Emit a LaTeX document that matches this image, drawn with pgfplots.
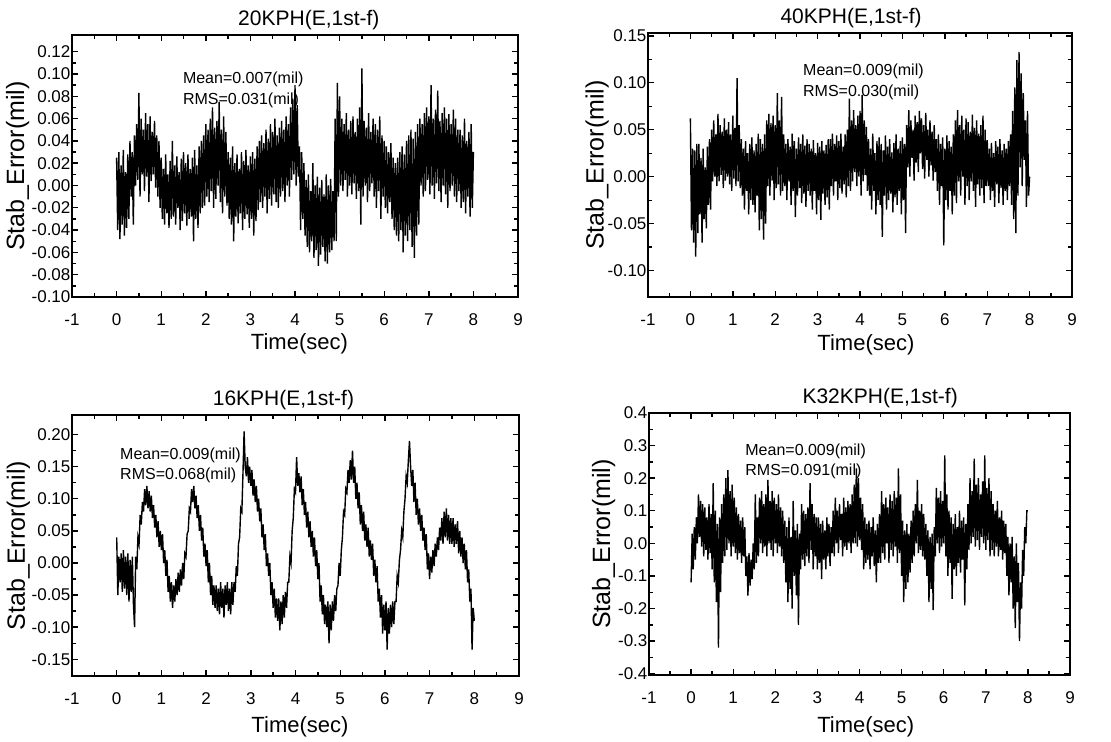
\documentclass[border=0pt]{standalone}
\usepackage{fontspec}
\setmainfont{Liberation Sans}
\usepackage{pgfplots}
\usepackage{pgfplotstable}
\pgfplotsset{compat=1.18}

\pgfplotstableread[row sep=\\]{y\\
0.025\\-0.040\\0.030\\-0.048\\0.018\\-0.035\\0.032\\-0.045\\0.012\\-0.038\\0.028\\-0.030\\
0.040\\-0.010\\0.030\\-0.035\\0.045\\0.000\\
0.055\\0.005\\0.083\\-0.010\\0.060\\0.010\\0.050\\-0.005\\0.065\\0.008\\0.055\\-0.015\\0.062\\0.004\\0.048\\0.010\\0.058\\-0.002\\
0.045\\-0.010\\0.040\\-0.020\\
0.025\\-0.030\\0.015\\-0.035\\0.028\\-0.025\\0.010\\-0.038\\0.022\\-0.030\\0.040\\-0.028\\0.018\\-0.035\\0.026\\-0.020\\0.012\\-0.040\\0.024\\-0.032\\
0.030\\-0.025\\0.020\\-0.036\\0.028\\-0.030\\0.015\\-0.028\\0.025\\-0.050\\0.032\\-0.030\\0.018\\-0.038\\0.035\\-0.025\\0.040\\-0.020\\0.045\\-0.018\\
0.055\\-0.010\\0.050\\-0.015\\0.060\\-0.005\\0.070\\-0.020\\0.052\\-0.012\\0.058\\0.000\\0.075\\-0.015\\0.050\\-0.025\\0.062\\-0.010\\0.048\\-0.018\\
0.030\\-0.030\\0.025\\-0.035\\0.035\\-0.050\\0.020\\-0.028\\0.028\\-0.034\\0.015\\-0.025\\0.030\\-0.040\\0.022\\-0.030\\0.032\\-0.026\\0.018\\-0.038\\0.026\\-0.030\\0.030\\-0.045\\0.024\\-0.032\\0.035\\-0.022\\
0.040\\-0.015\\0.045\\-0.020\\0.038\\-0.010\\0.050\\-0.025\\0.042\\-0.012\\0.055\\-0.018\\0.048\\-0.008\\0.060\\-0.015\\0.045\\-0.020\\0.052\\-0.010\\0.058\\-0.005\\0.050\\-0.015\\0.062\\0.000\\0.055\\-0.010\\
0.070\\0.005\\0.078\\0.010\\0.090\\0.000\\0.072\\0.008\\
0.035\\-0.040\\0.030\\-0.030\\0.020\\-0.045\\
0.005\\-0.055\\0.010\\-0.060\\-0.005\\-0.050\\0.020\\-0.065\\0.000\\-0.058\\0.008\\-0.072\\-0.002\\-0.062\\0.005\\-0.055\\-0.008\\-0.068\\0.010\\-0.070\\0.000\\-0.060\\0.006\\-0.058\\-0.005\\-0.050\\
0.060\\-0.050\\0.092\\-0.010\\
0.080\\0.000\\0.060\\-0.005\\0.055\\0.005\\0.065\\-0.010\\0.050\\0.000\\0.058\\-0.008\\0.062\\0.002\\0.048\\-0.012\\0.060\\-0.005\\0.070\\-0.035\\
0.105\\-0.010\\0.058\\0.000\\0.052\\-0.015\\0.065\\-0.005\\0.048\\0.002\\0.060\\-0.010\\0.055\\-0.020\\0.050\\-0.005\\0.062\\-0.030\\0.045\\-0.010\\
0.040\\-0.020\\0.035\\-0.025\\0.030\\-0.015\\0.038\\-0.030\\0.025\\-0.040\\
0.020\\-0.045\\0.025\\-0.050\\0.030\\-0.040\\0.035\\-0.060\\0.028\\-0.045\\0.040\\-0.050\\0.045\\-0.040\\0.050\\-0.055\\0.042\\-0.065\\0.048\\-0.045\\0.055\\-0.035\\
0.060\\0.000\\0.055\\-0.010\\0.065\\-0.005\\0.070\\0.005\\0.062\\-0.008\\0.090\\0.000\\0.060\\-0.012\\0.068\\0.002\\0.085\\-0.005\\0.058\\-0.015\\0.065\\0.000\\0.070\\-0.008\\0.060\\-0.020\\0.064\\-0.005\\0.055\\0.000\\0.068\\-0.010\\0.060\\-0.015\\0.050\\-0.005\\
0.050\\-0.020\\0.045\\-0.015\\0.060\\-0.025\\0.040\\-0.010\\0.048\\-0.028\\0.055\\-0.020\\0.030\\
}\dataA

\pgfplotstableread[row sep=\\]{y\\
0.062\\-0.057\\0.030\\-0.070\\0.028\\-0.085\\0.035\\-0.060\\
0.035\\-0.040\\0.020\\-0.070\\0.030\\-0.045\\0.010\\-0.055\\0.032\\-0.030\\0.040\\-0.035\\
0.050\\-0.005\\0.060\\0.000\\0.045\\-0.010\\0.067\\-0.005\\0.055\\0.002\\0.048\\-0.012\\0.062\\-0.004\\0.050\\0.000\\0.058\\-0.008\\0.045\\-0.015\\0.065\\-0.002\\0.052\\-0.010\\0.105\\-0.005\\0.055\\-0.012\\
0.040\\-0.020\\0.030\\-0.035\\0.038\\-0.015\\0.025\\-0.040\\0.035\\-0.025\\0.042\\-0.030\\0.028\\-0.038\\0.035\\-0.020\\
0.046\\-0.057\\0.040\\-0.045\\0.035\\-0.067\\0.045\\-0.050\\
0.060\\-0.010\\0.067\\-0.020\\0.057\\-0.004\\0.065\\-0.025\\0.055\\-0.012\\0.089\\-0.008\\0.060\\-0.020\\0.085\\-0.015\\
0.045\\-0.010\\0.035\\-0.025\\0.040\\-0.005\\0.032\\-0.030\\0.046\\-0.015\\0.038\\-0.043\\0.030\\-0.020\\0.042\\-0.012\\0.035\\-0.028\\0.045\\-0.018\\0.033\\-0.032\\0.040\\-0.015\\
0.035\\-0.020\\0.030\\-0.035\\0.039\\-0.015\\0.025\\-0.040\\0.036\\-0.025\\0.032\\-0.046\\0.038\\-0.018\\0.028\\-0.030\\0.034\\-0.022\\0.040\\-0.035\\
0.040\\-0.010\\0.046\\-0.020\\0.035\\-0.005\\0.044\\-0.025\\0.038\\-0.012\\0.046\\-0.018\\0.032\\-0.008\\0.045\\-0.022\\0.050\\-0.010\\0.083\\-0.015\\
0.060\\-0.005\\0.071\\0.005\\0.055\\-0.010\\0.065\\0.000\\0.070\\-0.020\\0.087\\-0.005\\0.060\\0.002\\0.053\\-0.015\\
0.040\\-0.020\\0.030\\-0.035\\0.046\\-0.015\\0.025\\-0.040\\0.038\\-0.025\\0.042\\-0.030\\0.035\\-0.064\\0.028\\-0.020\\0.044\\-0.035\\0.032\\-0.025\\0.040\\-0.018\\0.026\\-0.038\\0.036\\-0.022\\0.045\\-0.030\\0.030\\-0.015\\0.038\\-0.040\\0.042\\-0.025\\0.035\\-0.060\\
0.055\\0.010\\0.071\\0.000\\0.060\\0.020\\0.050\\-0.004\\0.065\\0.015\\0.058\\0.005\\0.070\\0.025\\0.062\\0.008\\0.055\\-0.002\\0.068\\0.018\\0.050\\0.000\\0.060\\0.012\\0.048\\-0.004\\0.055\\0.005\\
0.040\\-0.015\\0.045\\-0.030\\0.035\\-0.010\\0.042\\-0.073\\0.030\\-0.025\\0.044\\-0.035\\0.038\\-0.015\\0.032\\-0.040\\0.045\\-0.020\\0.060\\-0.028\\
0.071\\-0.005\\0.055\\-0.020\\0.065\\0.000\\0.050\\-0.030\\0.062\\-0.010\\0.058\\-0.025\\0.048\\-0.005\\0.066\\-0.015\\0.052\\-0.032\\0.060\\-0.008\\0.046\\-0.020\\0.055\\-0.012\\0.065\\-0.028\\0.050\\-0.010\\
0.039\\-0.010\\0.030\\-0.025\\0.036\\-0.015\\0.025\\-0.032\\0.038\\-0.008\\0.032\\-0.028\\0.040\\-0.012\\0.028\\-0.030\\0.035\\-0.015\\0.030\\-0.025\\0.038\\-0.010\\0.045\\-0.030\\
0.070\\-0.045\\0.095\\-0.060\\0.124\\-0.020\\0.133\\0.010\\0.110\\-0.010\\
0.089\\0.018\\0.060\\-0.032\\0.070\\-0.020\\0.000\\
}\dataB

\pgfplotstableread[row sep=\\]{y\\
0.040\\-0.050\\0.010\\-0.030\\0.015\\-0.045\\0.020\\-0.040\\0.010\\-0.050\\0.015\\-0.060\\0.005\\-0.045\\0.010\\-0.065\\
-0.100\\0.010\\-0.010\\0.040\\0.030\\0.075\\0.060\\0.095\\0.080\\0.115\\0.090\\0.120\\0.085\\0.112\\0.080\\0.105\\
0.070\\0.090\\0.055\\0.075\\0.040\\0.065\\0.025\\0.050\\0.020\\0.045\\0.000\\0.020\\-0.020\\0.005\\-0.045\\-0.020\\
-0.060\\-0.030\\-0.070\\-0.035\\-0.060\\-0.025\\-0.050\\-0.015\\-0.045\\-0.010\\-0.035\\0.000\\-0.025\\0.015\\0.010\\0.045\\
0.050\\0.085\\0.080\\0.115\\0.095\\0.120\\0.085\\0.105\\0.070\\0.090\\0.050\\0.075\\0.035\\0.055\\0.010\\0.030\\
-0.005\\0.020\\-0.030\\0.000\\-0.050\\-0.020\\-0.065\\-0.035\\-0.070\\-0.035\\-0.075\\-0.040\\-0.080\\-0.030\\-0.070\\-0.040\\
-0.085\\-0.035\\-0.065\\-0.030\\-0.075\\-0.040\\-0.080\\-0.030\\-0.065\\-0.030\\-0.045\\-0.005\\-0.020\\0.030\\0.040\\0.085\\
0.080\\0.140\\0.205\\0.150\\0.135\\0.165\\0.125\\0.150\\0.120\\0.145\\0.105\\0.130\\0.095\\0.120\\0.080\\0.100\\
0.065\\0.085\\0.040\\0.060\\0.020\\0.045\\-0.005\\0.015\\-0.020\\0.000\\-0.050\\-0.030\\-0.070\\-0.040\\-0.085\\-0.055\\
-0.090\\-0.055\\-0.105\\-0.060\\-0.095\\-0.050\\-0.085\\-0.045\\-0.070\\-0.030\\-0.030\\0.010\\0.000\\0.050\\0.070\\0.115\\
0.110\\0.165\\0.120\\0.140\\0.110\\0.135\\0.090\\0.115\\0.075\\0.095\\0.055\\0.080\\0.040\\0.065\\0.025\\0.050\\
0.010\\0.040\\-0.005\\0.020\\-0.025\\0.000\\-0.060\\-0.035\\-0.080\\-0.050\\-0.095\\-0.065\\-0.100\\-0.060\\-0.125\\-0.065\\
-0.105\\-0.060\\-0.090\\-0.050\\-0.075\\-0.040\\-0.035\\0.000\\-0.020\\0.020\\0.040\\0.080\\0.075\\0.115\\0.110\\0.145\\
0.125\\0.160\\0.130\\0.175\\0.125\\0.150\\0.100\\0.125\\0.085\\0.110\\0.060\\0.090\\0.050\\0.080\\0.035\\0.060\\
0.025\\0.055\\0.010\\0.035\\0.005\\0.030\\-0.020\\0.005\\-0.030\\-0.005\\-0.060\\-0.040\\-0.085\\-0.050\\-0.110\\-0.065\\
-0.105\\-0.060\\-0.135\\-0.070\\-0.110\\-0.065\\-0.100\\-0.060\\-0.095\\-0.060\\-0.060\\-0.020\\-0.030\\0.005\\0.020\\0.050\\
0.040\\0.080\\0.100\\0.135\\0.125\\0.160\\0.190\\0.150\\0.120\\0.145\\0.095\\0.125\\0.075\\0.100\\0.060\\0.085\\
0.050\\0.075\\0.035\\0.055\\0.020\\0.045\\-0.010\\0.015\\-0.025\\0.010\\-0.015\\0.020\\-0.005\\0.030\\0.010\\0.040\\
0.020\\0.055\\0.035\\0.070\\0.030\\0.080\\0.040\\0.085\\0.035\\0.075\\0.030\\0.070\\0.030\\0.070\\0.025\\0.060\\
0.030\\0.065\\0.015\\0.050\\0.010\\0.040\\0.000\\0.030\\-0.010\\0.020\\-0.030\\-0.010\\-0.060\\-0.040\\-0.135\\-0.070\\
-0.090\\
}\dataC

\pgfplotstableread[row sep=\\]{y\\
-0.120\\0.030\\-0.080\\0.050\\-0.050\\0.080\\
0.000\\0.150\\0.020\\0.130\\-0.010\\0.120\\
-0.040\\0.110\\-0.020\\0.080\\-0.050\\0.120\\-0.030\\0.090\\
-0.080\\0.185\\-0.120\\0.100\\-0.180\\0.060\\-0.320\\0.080\\-0.150\\0.120\\-0.060\\0.150\\
-0.040\\0.200\\-0.020\\0.225\\0.000\\0.160\\-0.040\\0.180\\-0.010\\0.140\\-0.030\\0.110\\
-0.050\\0.090\\-0.030\\0.070\\-0.060\\0.080\\-0.040\\0.050\\
-0.100\\-0.040\\-0.160\\-0.030\\-0.130\\-0.050\\-0.110\\0.000\\
-0.080\\0.150\\-0.060\\0.080\\
-0.040\\0.140\\0.000\\0.160\\-0.030\\0.120\\-0.010\\0.150\\-0.040\\0.195\\0.000\\0.130\\-0.020\\0.160\\-0.040\\0.140\\0.000\\0.120\\-0.030\\0.150\\-0.010\\0.110\\-0.040\\0.100\\
-0.060\\0.070\\-0.120\\0.050\\-0.180\\0.080\\-0.140\\0.020\\-0.200\\0.130\\-0.100\\0.040\\-0.160\\0.060\\-0.250\\0.030\\
-0.080\\0.120\\-0.050\\0.100\\-0.070\\0.090\\-0.040\\0.110\\-0.060\\0.185\\-0.020\\0.120\\-0.080\\0.090\\-0.040\\0.080\\
-0.080\\0.080\\-0.060\\0.060\\-0.110\\0.070\\-0.050\\0.040\\-0.080\\0.080\\-0.040\\0.060\\-0.070\\0.050\\-0.030\\0.100\\
-0.040\\0.140\\0.000\\0.100\\-0.030\\0.120\\0.010\\0.090\\-0.040\\0.140\\-0.010\\0.110\\-0.020\\0.130\\0.000\\0.120\\-0.030\\0.150\\0.000\\0.180\\
0.000\\0.230\\-0.010\\0.200\\0.010\\0.140\\-0.020\\0.120\\
-0.080\\0.080\\-0.060\\0.060\\-0.050\\0.070\\-0.080\\0.050\\-0.040\\0.080\\-0.070\\0.040\\-0.120\\0.060\\-0.060\\0.090\\
-0.060\\0.160\\-0.030\\0.120\\-0.050\\0.140\\0.000\\0.110\\-0.060\\0.150\\-0.020\\0.130\\-0.040\\0.160\\-0.010\\0.140\\-0.060\\0.230\\-0.030\\0.150\\
-0.100\\0.070\\-0.180\\0.040\\-0.140\\0.060\\-0.120\\0.030\\-0.090\\0.070\\-0.060\\0.100\\
-0.040\\0.120\\0.000\\0.195\\-0.030\\0.100\\-0.020\\0.120\\-0.040\\0.090\\-0.050\\0.060\\
-0.100\\0.040\\-0.180\\0.020\\-0.140\\0.030\\-0.205\\0.050\\
-0.040\\0.170\\0.000\\0.140\\-0.030\\0.160\\-0.010\\0.130\\0.000\\0.270\\-0.040\\0.150\\
-0.100\\0.100\\-0.060\\0.080\\-0.170\\0.060\\-0.080\\0.090\\-0.100\\0.050\\-0.060\\0.100\\-0.090\\0.070\\-0.050\\0.080\\-0.190\\0.060\\-0.080\\0.120\\
-0.020\\0.200\\0.000\\0.160\\0.020\\0.260\\-0.010\\0.180\\0.010\\0.200\\-0.020\\0.150\\0.020\\0.190\\0.000\\0.270\\-0.020\\0.170\\0.010\\0.200\\-0.040\\0.160\\-0.020\\0.120\\
-0.040\\0.100\\-0.010\\0.130\\-0.040\\0.080\\-0.020\\0.100\\-0.050\\0.070\\-0.030\\0.060\\
-0.100\\0.020\\-0.160\\0.000\\-0.120\\0.020\\-0.200\\-0.040\\-0.260\\0.000\\-0.180\\-0.060\\
-0.300\\-0.120\\-0.200\\-0.020\\-0.100\\0.050\\0.000\\0.100\\0.100\\
}\dataD

\pgfplotsset{
  panel/.style={
    scale only axis,
    anchor=south west,
    xmin=-1, xmax=9,
    xtick={-1,0,1,2,3,4,5,6,7,8,9},
    minor x tick num=1,
    minor y tick num=1,
    tick align=inside,
    major tick length=3pt,
    minor tick length=1.8pt,
    axis line style={line width=0.9pt},
    every tick/.style={black, line width=0.7pt},
    scaled ticks=false,
    /pgf/number format/assume math mode=true,
    tick label style={font=\fontsize{8.5}{9.5}\selectfont},
    xticklabel style={anchor=base, yshift=-14.5pt},
    yticklabel style={inner xsep=0.6pt, /pgf/number format/fixed, /pgf/number format/fixed zerofill, /pgf/number format/precision=2},
    xlabel={Time(sec)},
    ylabel={Stab\_Error(mil)},
    xlabel style={anchor=center, font=\fontsize{11}{13}\selectfont},
    ylabel style={anchor=center, font=\fontsize{12.5}{14}\selectfont},
    every axis title/.style={anchor=center, yshift=7.5pt, font=\fontsize{10.5}{12}\selectfont},
  },
  sig/.style={black, line width=0.7pt, no markers},
}
\tikzset{ann/.style={anchor=west, inner sep=0pt, font=\fontsize{8}{9.5}\selectfont}}

\begin{document}
\begin{tikzpicture}
\path[use as bounding box] (0,0) rectangle (555.5pt,371pt);

% Panel 1: 20KPH
\begin{axis}[panel, at={(36pt,222.5pt)}, width=223pt, height=131pt,
  ymin=-0.10, ymax=0.135,
  ytick={-0.1,-0.08,-0.06,-0.04,-0.02,0,0.02,0.04,0.06,0.08,0.1,0.12},
  title={20KPH(E,1st-f)}, title style={at={(0.531,1)}},
  xlabel style={at={(axis description cs:0.51,-0.18)}},
  ylabel style={at={(axis description cs:-0.122,0.5)}}]
\addplot[sig] table[x expr=\coordindex*0.025, y=y] {\dataA};
\node[ann] at (axis cs:1.48,0.0955) {Mean=0.007(mil)};
\node[ann] at (axis cs:1.48,0.0767) {RMS=0.031(mil)};
\end{axis}

% Panel 2: 40KPH
\begin{axis}[panel, at={(324pt,222.5pt)}, width=212pt, height=132pt,
  ymin=-0.128, ymax=0.153,
  ytick={-0.1,-0.05,0,0.05,0.1,0.15},
  title={40KPH(E,1st-f)}, title style={at={(0.479,1)}},
  xlabel style={at={(axis description cs:0.514,-0.18)}},
  ylabel style={at={(axis description cs:-0.12,0.5)}}]
\addplot[sig] table[x expr=\coordindex*0.025, y=y] {\dataB};
\node[ann] at (axis cs:2.65,0.1117) {Mean=0.009(mil)};
\node[ann] at (axis cs:2.65,0.0894) {RMS=0.030(mil)};
\end{axis}

% Panel 3: 16KPH
\begin{axis}[panel, at={(36pt,33pt)}, width=223.5pt, height=130.5pt,
  ymin=-0.176, ymax=0.2305,
  ytick={-0.15,-0.1,-0.05,0,0.05,0.1,0.15,0.2},
  title={16KPH(E,1st-f)}, title style={at={(0.473,1)}},
  xlabel style={at={(axis description cs:0.51,-0.195)}},
  ylabel style={at={(axis description cs:-0.12,0.5)}}]
\addplot[sig] table[x expr=\coordindex*0.025, y=y] {\dataC};
\node[ann] at (axis cs:0.07,0.168) {Mean=0.009(mil)};
\node[ann] at (axis cs:0.07,0.137) {RMS=0.068(mil)};
\end{axis}

% Panel 4: K32KPH
\begin{axis}[panel, at={(324.5pt,33.5pt)}, width=210.5pt, height=131pt,
  ymin=-0.404, ymax=0.40,
  ytick={-0.4,-0.3,-0.2,-0.1,0,0.1,0.2,0.3,0.4},
  yticklabel style={/pgf/number format/precision=1},
  title={K32KPH(E,1st-f)}, title style={at={(0.549,1)}},
  xlabel style={at={(axis description cs:0.515,-0.198)}},
  ylabel style={at={(axis description cs:-0.108,0.5)}}]
\addplot[sig] table[x expr=\coordindex*0.025, y=y] {\dataD};
\node[ann] at (axis cs:1.28,0.283) {Mean=0.009(mil)};
\node[ann] at (axis cs:1.28,0.222) {RMS=0.091(mil)};
\end{axis}
\end{tikzpicture}
\end{document}
